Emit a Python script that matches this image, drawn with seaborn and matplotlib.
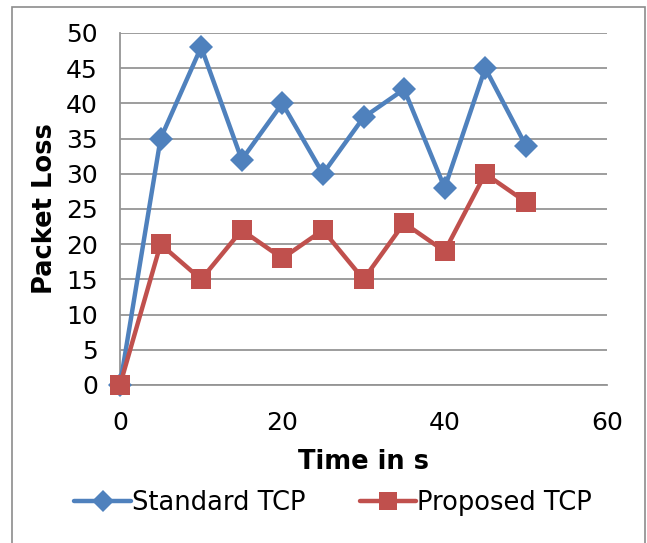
import matplotlib
matplotlib.use("Agg")
import matplotlib.pyplot as plt
import seaborn as sns
import pandas as pd
from matplotlib.patches import Rectangle
from matplotlib.lines import Line2D

time_s = [0, 5, 10, 15, 20, 25, 30, 35, 40, 45, 50]
standard_tcp = [0, 35, 48, 32, 40, 30, 38, 42, 28, 45, 34]
proposed_tcp = [0, 20, 15, 22, 18, 22, 15, 23, 19, 30, 26]
series_names = ["Standard TCP", "Proposed TCP"]
x_ticks = [0, 20, 40, 60]
y_ticks = [0, 5, 10, 15, 20, 25, 30, 35, 40, 45, 50]

df = pd.DataFrame({
    "Time": time_s * 2,
    "Loss": standard_tcp + proposed_tcp,
    "Series": [series_names[0]] * len(time_s) + [series_names[1]] * len(time_s),
})

sns.set_style("white")
plt.rcParams["font.family"] = ["DejaVu Sans"]
plt.rcParams["text.color"] = "black"
plt.rcParams["axes.labelcolor"] = "black"
plt.rcParams["xtick.color"] = "black"
plt.rcParams["ytick.color"] = "black"

W, H = 647, 543
fig = plt.figure(figsize=(W / 100, H / 100), dpi=100)
ax = fig.add_axes([120 / W, 1 - 385 / H, (607 - 120) / W, (385 - 33) / H])

blue = "#4F81BD"
red = "#C0504D"
sns.lineplot(data=df, x="Time", y="Loss", hue="Series", style="Series",
             palette={series_names[0]: blue, series_names[1]: red},
             markers={series_names[0]: "D", series_names[1]: "s"},
             dashes=False, linewidth=3.2, markersize=12, markeredgewidth=0,
             ax=ax, legend=False)
for line in ax.get_lines():
    if line.get_marker() == "D":
        line.set_markersize(12)
    elif line.get_marker() == "s":
        line.set_markersize(14)

ax.set_xlim(0, 60)
ax.set_ylim(0, 50)
ax.set_xticks(x_ticks)
ax.set_yticks(y_ticks)
grid_c = "#959595"
ax.grid(axis="y", color=grid_c, linewidth=1.3)
ax.grid(axis="x", visible=False)
for side in ["top", "right"]:
    ax.spines[side].set_visible(False)
for side in ["left", "bottom"]:
    ax.spines[side].set_color(grid_c)
    ax.spines[side].set_linewidth(1.3)
ax.tick_params(axis="both", direction="out", length=9, width=1.3, color=grid_c,
               labelsize=18, labelcolor="black")
ax.tick_params(axis="x", pad=10)
ax.tick_params(axis="y", pad=7, length=9)
ax.set_axisbelow(True)
for line in ax.get_lines():
    line.set_clip_on(False)
    line.set_zorder(3)

ax.set_xlabel("Time in s", fontsize=18.5, fontweight="bold", labelpad=10, color="black")
ax.set_ylabel("Packet Loss", fontsize=18.5, fontweight="bold", labelpad=6, color="black")

handles = [
    Line2D([0], [0], color=blue, marker="D", markersize=11, linewidth=3.2, markeredgewidth=0),
    Line2D([0], [0], color=red, marker="s", markersize=13, linewidth=3.2, markeredgewidth=0),
]
fig.legend(handles, series_names, loc="center", bbox_to_anchor=(0.515, 1 - 503 / H),
           ncol=2, frameon=False, fontsize=18.5, handlelength=2.2, handletextpad=0.05,
           columnspacing=2.1)

fig.add_artist(Rectangle((12 / W, -0.05), (645 - 12) / W, 1 - 7 / H + 0.05,
                         transform=fig.transFigure, fill=False,
                         edgecolor="#8c8c8c", linewidth=1.2))

fig.savefig("out.png", dpi=100)
